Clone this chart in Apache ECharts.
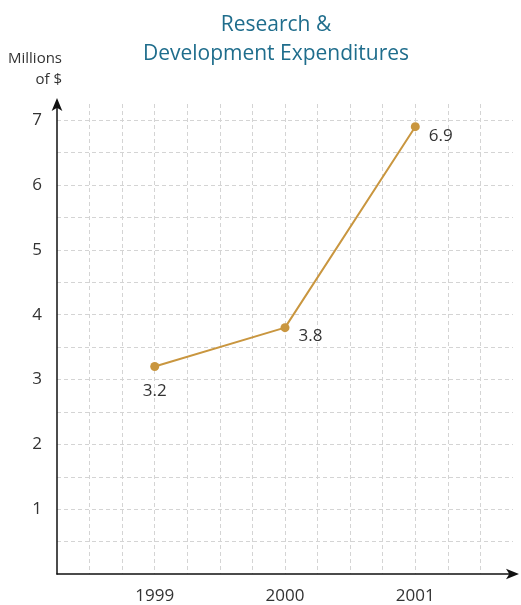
<!DOCTYPE html>
<html>
<head>
<meta charset="utf-8">
<script src="https://cdn.jsdelivr.net/npm/echarts@6/dist/echarts.min.js"></script>
<style>
	html, body { margin: 0; padding: 0; background: #fff; }
	#chart { width: 521px; height: 605px; }
</style>
</head>
<body>
<div id="chart"></div>
<script>
// 年份和数值
var years = [1999, 2000, 2001];
var values = [3.2, 3.8, 6.9];
var yTicks = [1, 2, 3, 4, 5, 6, 7];
// 标签位置
var labelPos = ['bottom', 'right', 'right'];

var lineColor = '#c9963f';

var seriesData = years.map(function (y, i) {
	return {
		value: [y, values[i]],
		label: labelPos[i] === 'bottom'
			? { position: 'bottom', distance: 12 }
			: { position: 'right', distance: 9, offset: [0, 9] }
	};
});

var myChart = echarts.init(document.getElementById('chart'));
var option = {
	title: {
		text: 'Research &\nDevelopment Expenditures',
		left: 271,
		textAlign: 'center',
		top: 6,
		textStyle: {
			color: '#1f6d8c',
			fontFamily: 'Open Sans',
			fontWeight: 'normal',
			fontSize: 21,
			lineHeight: 29
		}
	},
	grid: {
		left: 57,
		right: 8,
		top: 104,
		bottom: 28
	},
	xAxis: {
		type: 'value',
		min: 1998.25,
		max: 2001.75,
		interval: 0.25,
		axisLine: {
			show: true,
			onZero: false,
			symbol: ['none', 'arrow'],
			symbolSize: [8, 13],
			symbolOffset: [0, 6],
			lineStyle: { color: '#111', width: 1.5 }
		},
		axisTick: { show: false },
		axisLabel: {
			margin: 14,
			color: '#333',
			fontSize: 17,
			fontFamily: 'Open Sans',
			formatter: function (v) {
				return years.indexOf(Math.round(v * 100) / 100) >= 0 ? String(v) : '';
			}
		},
		splitLine: {
			show: true,
			showMinLine: false,
			showMaxLine: false,
			lineStyle: { color: '#d4d4d4', type: [4, 3], width: 1 }
		}
	},
	yAxis: {
		type: 'value',
		min: 0,
		max: 7.25,
		interval: 0.5,
		name: 'Millions\nof $',
		nameLocation: 'end',
		nameGap: 14,
		nameTextStyle: {
			align: 'right',
			color: '#333',
			fontSize: 15,
			fontFamily: 'Open Sans',
			lineHeight: 21,
			padding: [0, -5, 0, 0]
		},
		axisLine: {
			show: true,
			symbol: ['none', 'arrow'],
			symbolSize: [8, 13],
			symbolOffset: [0, 6],
			lineStyle: { color: '#111', width: 1.5 }
		},
		axisTick: { show: false },
		axisLabel: {
			margin: 15,
			color: '#333',
			fontSize: 17,
			fontFamily: 'Open Sans',
			formatter: function (v) {
				return yTicks.indexOf(Math.round(v * 100) / 100) >= 0 ? String(v) : '';
			}
		},
		splitLine: {
			show: true,
			showMinLine: false,
			showMaxLine: false,
			lineStyle: { color: '#d4d4d4', type: [4, 3], width: 1 }
		}
	},
	series: [
		{
			type: 'line',
			data: seriesData,
			symbol: 'circle',
			symbolSize: 9,
			itemStyle: { color: lineColor },
			lineStyle: { color: lineColor, width: 2 },
			label: {
				show: true,
				color: '#333',
				fontSize: 17,
				fontFamily: 'Open Sans',
				formatter: function (p) { return p.value[1]; }
			},
			animation: false
		}
	],
	animation: false
};
myChart.setOption(option);
</script>
</body>
</html>
